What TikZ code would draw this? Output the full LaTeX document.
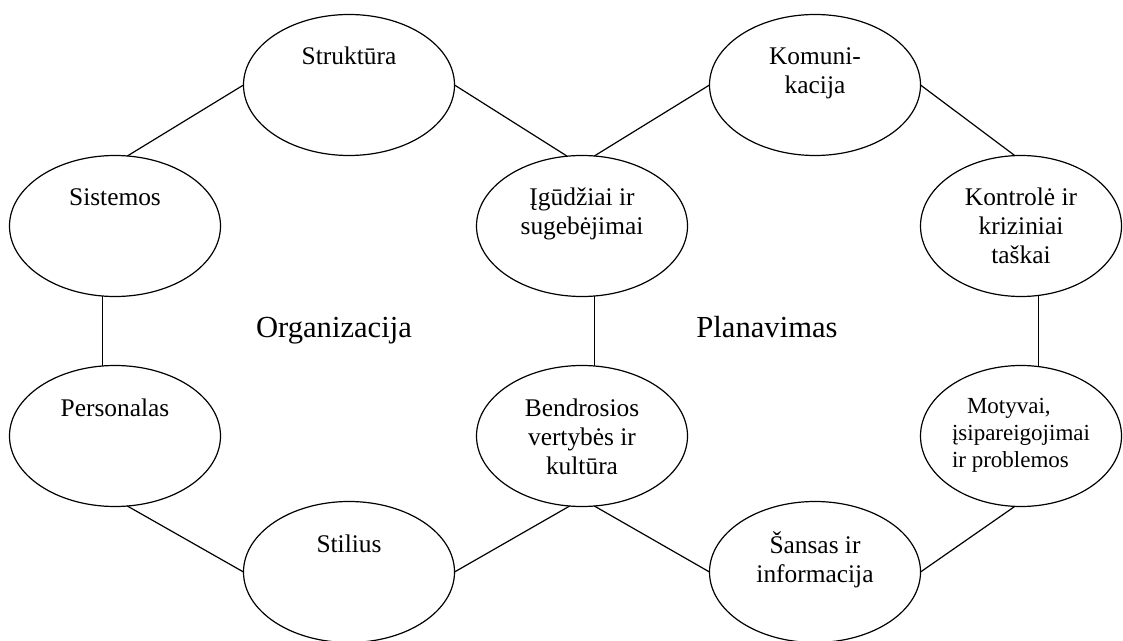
\documentclass[tikz,border=0pt]{standalone}
\usepackage{fontspec}
\setmainfont{Liberation Serif}
\usetikzlibrary{shapes.geometric}

\newcommand{\ovaltxt}[1]{\parbox[c][40.3pt][t]{70pt}{\centering\strut #1}}
\tikzset{
    oval/.style={draw, ellipse, line width=0.6pt, inner sep=0pt, outer sep=0pt,
        minimum width=105.5pt, minimum height=70.5pt,
        font=\fontsize{12.7}{14.5}\selectfont},
    link/.style={line width=0.6pt},
    area/.style={anchor=base, font=\fontsize{15.3}{18}\selectfont}
}

\begin{document}
\begin{tikzpicture}[x=0.5pt, y=-0.5pt]
    \useasboundingbox (0,0) rectangle (1123,641);
    \node[oval] (str) at (349,85) {\ovaltxt{Struktūra}};
    \node[oval] (kom) at (815,85) {\ovaltxt{Komuni-\\kacija}};
    \node[oval] (sis) at (115,226) {\ovaltxt{Sistemos}};
    \node[oval] (igu) at (582,226) {\ovaltxt{Įgūdžiai ir\\sugebėjimai}};
    \node[oval, minimum width=100.5pt] (kon) at (1021,226) {\ovaltxt{Kontrolė ir\\kriziniai\\taškai}};
    \node[oval] (per) at (115,436) {\ovaltxt{Personalas}};
    \node[oval] (ben) at (582,436) {\ovaltxt{Bendrosios\\vertybės ir\\kultūra}};
    \node[oval, minimum width=100.5pt, font=\fontsize{11.5}{13.5}\selectfont] (mot) at (1021,436)
        {\parbox[c][41.9pt][t]{69pt}{\raggedright\strut\hspace*{7.5pt}Motyvai,\\įsipareigojimai\\ir problemos}};
    \node[oval] (sti) at (349,572) {\ovaltxt{Stilius}};
    \node[oval] (san) at (815,572) {\ovaltxt{Šansas ir\\informacija}};

    \node[area] (org) at (334,337) {Organizacija};
    \node[area] (pla) at (767,337) {Planavimas};

    \draw[link] (str.west) -- (sis.80);
    \draw[link] (str.east) -- (igu.102);
    \draw[link] (kom.west) -- (igu.80);
    \draw[link] (kom.east) -- (kon.95);
    \draw[link] (sis.260) -- (per.100);
    \draw[link] (igu.-80) -- (ben.80);
    \draw[link] (kon.-76) -- (mot.76);
    \draw[link] (per.-80) -- (sti.west);
    \draw[link] (sti.east) -- (ben.-100);
    \draw[link] (ben.-80) -- (san.west);
    \draw[link] (san.east) -- (mot.-95);
\end{tikzpicture}
\end{document}
